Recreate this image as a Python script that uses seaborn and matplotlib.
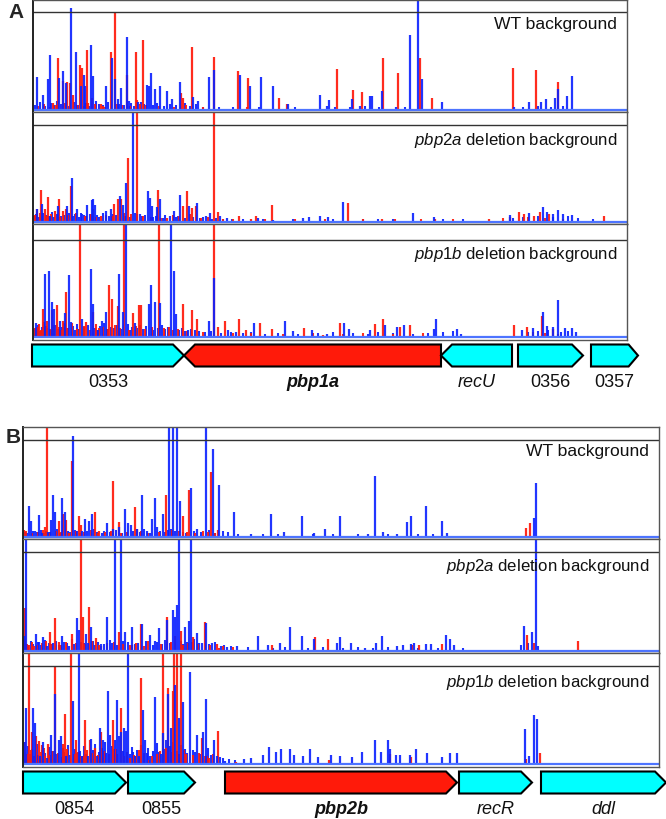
import numpy as np
import matplotlib
matplotlib.use("Agg")
import matplotlib.pyplot as plt
from matplotlib.patches import Polygon
import seaborn as sns

# ---------------- data (position along region, read count; 100 = black line) ----------------
A_WT_red_pos = [20,25,30,34,37,40,47,49,54,55,59,68,70,78,82,84,94,103,104,110,148,150,159,181,205,215,246,254,
                304,320,329,350,365,387,399,480,503,525]
A_WT_red_h = [7,53,30,29,28,15,46,43,61,7,12,6,4,59,100,6,36,59,10,71,17,12,64,54,40,33,12,6,
              42,20,18,53,38,53,12,43,41,29]
A_WT_blue_pos = [4,10,15,16.5,26,30,33,38,43,48,51,52,58,60,73,79,82,85,88,94,96,105,114,116,118,122,127,134,139,147,
                 160,165,176,181,189,207,217,228,240,255,269,287,294,296,
                 319,327,337,339,349,363,377,385,389,409,481,496,508,513,522,525,534,539]
A_WT_blue_h = [34,15,32,56,33,40,28,104,59,25,36,25,66,35,25,53,32,11,22,75,9,8,26,25,38,21,25,19,11,29,
               13,9,34,41,1,36,25,34,24,6,1,15,4,10,
               11,4,14,14,19,3,77,130,32,8,3,8,8,11,12,21,14,35]
A_WT_blue_low_pos = [2,7,12,18,21,24,28,36,41,45,53,56,63,66,70,75,86,91,98,101,108,111,120,124,131,137,143,152,157,163,
                     170,186,200,226,262,302,317,332,346,372,490,505,518,530]
A_WT_blue_low_h = [5,8,4,7,5,9,6,4,8,5,7,4,9,6,5,8,6,5,7,4,8,6,5,7,4,6,5,7,4,6,
                   3,3,3,3,3,3,3,4,3,3,3,4,3,4]
A_WT_red_low_pos = [5,11,17,23,32,44,51,62,72,89,97,107,113,126,141,153,170,214]
A_WT_red_low_h = [4,6,3,5,7,5,4,6,3,5,4,6,5,4,3,5,3,3]

A_2A_red_pos = [4,8,12,15,22,26,30,33,38,60,68,81,85,88,95,104,125,134,150,154,159,163,181,185,206,218,223,239,
                315,349,402,456,477,486,491,501,507,516,571]
A_2A_red_h = [13,33,13,26,11,24,11,13,37,13,6,19,24,24,66,130,33,4,17,32,14,17,130,10,6,3,6,18,
              20,3,3,3,5,10,8,6,10,8,6]
A_2A_blue_pos = [4,9,17,25,34,39,44,49,54,59,60,62,73,78,87,90,93,100,102,107,115,117,119,124,127,137,141,147,156,164,
                 173,177,187,194,225,240,251,270,276,287,295,
                 310,380,401,477,496,510,514,520,525,530,539]
A_2A_blue_h = [13,19,6,16,16,45,13,8,18,23,24,18,11,13,27,18,40,130,9,8,32,25,16,15,24,6,11,28,16,20,
               6,9,6,4,4,2,1,4,5,6,5,
               21,9,5,7,9,15,10,8,12,8,7]
A_2A_blue_low_pos = [1,3,6,10,13,16,19,21,24,28,31,36,40,42,46,48,51,53,57,64,66,70,76,80,83,92,97,104,109,112,
                     120,123,130,132,143,145,152,160,167,170,179,183,190,199,210,230,260,300,330,345,
                     360,410,430,480,490,505,520,535,545,560]
A_2A_blue_low_h = [6,8,5,9,7,6,10,5,8,6,7,9,6,8,5,9,7,6,8,7,5,9,6,8,7,6,5,8,6,7,
                   5,6,4,7,5,6,4,5,4,5,3,4,3,3,3,3,3,3,3,3,
                   3,3,3,4,5,6,5,6,4,3]
A_2A_red_low_pos = [2,7,14,18,27,35,43,52,58,63,73,79,91,98,110,118,128,140,146,157,
                    168,175,190,200,232,262,292,330,362,388,420,470,495,512,530]
A_2A_red_low_h = [7,9,6,8,5,7,9,6,8,5,7,6,9,8,6,5,4,7,6,8,
                  4,5,3,3,3,3,3,3,3,3,3,4,5,4,3]

A_1B_red_pos = [4,10,14,19,24,30,33,47,53,60,76,79,85,91,100,106,108,126,136,150,159,164,181,185,192,206,213,227,239,271,290,
                307,342,350,367,377,481,494,509,520]
A_1B_red_h = [10,29,17,28,33,17,46,130,15,26,54,39,32,130,25,33,33,130,10,34,28,19,130,10,17,19,7,14,8,9,2,
              14,13,19,10,12,12,10,22,8]
A_1B_blue_pos = [3,12,16,19,21,27,32,36,38,49,58,60,65,69,73,86,90,93,102,116,118,122,127,138,141,143,155,176,181,195,
                 203,221,252,260,279,294,
                 311,316,337,352,364,371,401,403,424,428,467,489,500,510,514,520,525,532,539,543]
A_1B_blue_h = [14,65,68,36,29,17,25,64,15,19,70,34,7,16,26,65,26,130,14,34,54,36,35,130,68,24,7,16,61,7,
               5,14,16,6,7,3,
               14,8,7,12,10,12,8,19,8,3,1,7,9,26,11,10,38,9,9,5]
A_1B_blue_low_pos = [1,5,7,9,11,14,18,23,25,29,31,34,40,42,44,46,51,55,62,64,67,71,75,78,81,84,88,95,97,99,
                     104,107,110,113,120,125,129,132,135,146,149,152,158,162,166,172,178,188,198,210,
                     218,232,245,265,285,300,320,335,345,360,380,395,410,420,495,505,515,528,535]
A_1B_blue_low_h = [8,12,6,10,15,9,7,12,8,10,14,9,11,7,13,8,10,12,9,7,11,14,8,10,9,12,8,13,7,10,
                   9,12,8,11,7,9,12,8,10,7,9,6,8,7,6,5,6,4,5,4,
                   5,3,4,3,4,5,4,3,5,4,3,4,5,6,5,6,7,5,6]
A_1B_red_low_pos = [2,6,8,13,17,21,26,28,35,39,44,51,57,63,66,70,74,82,87,96,
                    103,112,119,131,140,145,154,170,200,218,250,280,310,330,360,390,500,512,525]
A_1B_red_low_h = [9,13,7,11,8,12,10,7,9,14,8,11,7,13,9,10,8,12,9,7,
                  11,8,10,9,7,8,6,5,4,4,3,4,3,4,3,4,5,4,3]

B_WT_red_pos = [1,22,24,36,40,43,49,56,58,72,76,90,96,112,114,143,160,166,188,195,503,507]
B_WT_red_h = [7,10,130,16,24,18,78,22,12,26,6,58,15,31,8,43,22,48,67,7,9,14]
B_WT_blue_pos = [6,8,12,16,19,25,28,30,32,39,42,50,54,59,62,66,69,84,90,96,102,105,108,114,119,124,129,132,134,140,
                 146,150,154,157,168,174,183,190,196,211,228,248,261,279,291,302,317,345,352,360,
                 374,384,388,403,419,424,511,513]
B_WT_blue_h = [32,17,6,23,4,5,18,43,26,40,26,104,6,6,19,17,24,14,8,10,29,14,12,8,43,6,19,40,10,24,
               130,130,130,37,51,8,130,91,54,26,3,24,5,22,4,8,22,3,63,5,
               3,15,22,32,16,4,20,56]
B_WT_blue_low_pos = [2,4,10,14,18,21,23,27,34,37,45,47,52,57,64,71,74,79,81,87,93,99,110,117,121,127,137,142,145,148,
                     152,160,163,171,178,186,192,200,205,215,240,255,290,310,335,365,395,410]
B_WT_blue_low_h = [5,4,6,5,7,4,6,5,8,4,6,5,7,4,6,8,5,4,6,5,7,4,6,5,8,4,6,5,7,8,
                   6,5,4,6,5,7,4,6,5,3,3,3,3,3,3,3,3,3]
B_WT_red_low_pos = [3,9,15,20,26,33,38,46,53,61,68,75,82,88,98,104,118,125,136,149,156,164,172,180,185,192]
B_WT_red_low_h = [6,4,5,7,4,6,5,4,6,5,7,4,5,6,4,5,6,4,5,7,6,5,4,6,5,4]

B_2A_red_pos = [2,6,11,27,32,36,49,58,60,66,73,78,96,109,118,121,144,152,158,169,170,182,194,196,
                249,292,305,389,396,419,504,511,555]
B_2A_red_h = [43,6,5,19,33,9,17,130,34,44,13,5,19,6,27,5,34,15,20,9,14,29,7,3,
              6,14,12,6,6,7,16,8,10]
B_2A_blue_pos = [0.5,3,13,16,20,24,30,39,46,54,56,63,65,68,78,84,92,98,102,109,119,127,132,136,144,150,152,154,156,162,
                 166,168,174,179,183,189,198,204,214,
                 235,245,257,267,279,291,314,317,328,342,353,359,374,380,388,391,403,408,423,427,431,501,509,513]
B_2A_blue_h = [15,130,17,9,14,5,8,15,5,33,21,17,8,24,7,34,130,130,19,24,27,16,10,23,31,41,34,46,130,24,
               30,130,18,8,28,8,5,4,5,
               15,6,8,24,15,12,8,14,8,3,8,15,5,6,7,8,7,7,16,12,6,25,19,130]
B_2A_blue_low_pos = [2,5,8,10,15,18,22,26,28,33,36,41,44,49,51,58,61,70,72,75,81,87,89,94,100,105,112,115,123,130,
                     134,139,142,147,158,160,164,171,176,186,192,201,208,225,250,262,285,300,320,335,
                     350,365,395,415,440,498,505,515]
B_2A_blue_low_h = [8,6,10,7,9,6,11,8,7,10,6,9,8,12,7,9,8,10,6,9,7,11,8,6,10,9,7,8,10,6,
                   9,7,11,8,10,7,9,12,8,7,9,6,5,4,3,4,3,4,3,4,
                   3,4,3,3,3,6,8,5]
B_2A_red_low_pos = [4,9,14,19,23,29,38,43,53,62,69,76,84,91,100,107,113,125,138,148,160,165,175,187,200,210]
B_2A_red_low_h = [7,9,6,8,10,7,6,9,8,7,10,6,8,9,7,6,8,10,7,9,6,8,7,6,5,4]

B_1B_red_pos = [2,6,9,13,16,19,22,25,32,40,42,48,53,58,62,67,72,78,90,94,98,107,113,118,126,134,140,145,150,151,
                154,158,163,179,182,186,195,213,306,367,388,503,517]
B_1B_red_h = [22,130,33,29,23,19,8,20,99,20,51,130,25,8,45,24,16,33,45,10,57,6,8,88,4,10,130,78,75,130,
              130,130,10,27,8,6,34,2,4,10,7,5,11]
B_1B_blue_pos = [1,3,10,12,17,20,24,28,32,36,38,43,50,56,59,65,68,74,77,80,85,87,94,96,98,101,103,105,112,116,
                 120,122,127,132,138,140,145,148,152,156,160,167,174,180,183,191,194,202,
                 221,228,240,246,253,258,267,271,280,287,295,308,317,329,339,352,358,365,367,373,
                 377,387,393,404,419,427,434,502,506,511,514]
B_1B_blue_h = [22,57,57,42,8,22,6,30,71,25,29,8,64,130,8,8,26,8,37,25,74,30,65,29,33,37,34,130,8,8,
               55,25,8,68,10,32,71,37,81,47,63,94,30,33,66,24,8,3,
               5,6,9,17,12,15,15,9,8,15,7,9,8,7,12,25,12,25,15,9,
               9,9,15,11,7,11,11,36,8,50,46]
B_1B_blue_low_pos = [2,5,7,9,14,15,19,22,26,30,34,40,41,45,47,52,54,57,61,63,70,72,76,79,82,83,89,91,92,100,
                     107,109,110,114,118,124,125,130,134,136,142,143,147,150,154,158,162,164,170,172,
                     177,185,188,197,200,206,212]
B_1B_blue_low_h = [12,18,10,15,20,9,14,11,17,13,10,16,12,19,9,15,11,13,18,10,14,20,12,16,22,11,18,15,24,13,
                   10,17,12,14,19,11,16,13,21,12,15,24,18,22,13,19,15,11,14,12,
                   10,16,9,7,6,5,4]
B_1B_red_low_pos = [4,8,11,18,21,27,29,35,39,44,51,55,60,64,69,75,81,86,93,101,
                    104,111,116,121,129,137,143,148,156,161,170,176,184,190]
B_1B_red_low_h = [10,14,8,12,16,9,13,11,7,15,10,12,8,14,11,9,13,10,15,8,
                  12,9,14,11,8,13,16,12,10,14,9,11,8,10]

A_genes = ["0353", "pbp1a", "recU", "0356", "0357"]
A_gene_start = [-1, 151, 408, 485, 558]
A_gene_end = [151, 408, 479, 550, 605]
A_gene_dir = [1, -1, -1, 1, 1]
B_genes = ["0854", "0855", "pbp2b", "recR", "ddl"]
B_gene_start = [0, 105, 202, 436, 518]
B_gene_end = [103, 172, 434, 509, 643]
B_gene_dir = [1, 1, 1, 1, 1]

# ---------------- style ----------------
sns.set_style("white")
plt.rcParams['font.family'] = ['Liberation Sans', 'DejaVu Sans']
plt.rcParams['mathtext.fontset'] = 'custom'
plt.rcParams['mathtext.rm'] = 'Liberation Sans'
plt.rcParams['mathtext.it'] = 'Liberation Sans:italic'
plt.rcParams['mathtext.bf'] = 'Liberation Sans:bold'

RED = '#ff1a0a'
BLUE = '#0a20ff'
BASE = '#4d74ff'
CYAN = '#00ffff'

W, H = 666, 820
fig = plt.figure(figsize=(W / 100, H / 100), dpi=100)


def px_axes(x0, y0, x1, y1):
    return fig.add_axes([x0 / W, 1 - y1 / H, (x1 - x0) / W, (y1 - y0) / H])


def draw_track(x0, x1, top, line, base, bottom, rp, rh, bp, bh, rlp, rlh, blp, blh, label, label_y, fs):
    ax = px_axes(x0, top, x1, bottom)
    u = 100.0 / (base - line)
    ax.set_xlim(0, x1 - x0)
    ax.set_ylim(-(bottom - base) * u, (base - top) * u)
    ax.vlines(blp, 0, blh, color=BLUE, lw=1.5, alpha=0.92)
    ax.vlines(rlp, 0, rlh, color=RED, lw=1.5, alpha=0.92)
    ax.vlines(rp, 0, rh, color=RED, lw=1.6, alpha=0.92)
    ax.vlines(bp, 0, bh, color=BLUE, lw=1.6, alpha=0.9)
    ax.axhline(0, color=BASE, lw=1.6)
    ax.axhline(100, color='#333333', lw=1.0)
    ax.set_xticks([])
    ax.set_yticks([])
    for s in ax.spines.values():
        s.set_visible(True)
        s.set_color('#555555')
        s.set_linewidth(1.0)
    ax.spines['left'].set_color('#222222')
    ax.spines['left'].set_linewidth(1.4)
    ax.text((x1 - x0) - 10, (base - label_y) * u, label, ha='right', va='center',
            fontsize=fs, color='#111111')
    return ax


def draw_genes(y0, y1, xoff, names, starts, ends, dirs, label_y):
    ax = px_axes(0, y0, W, y1)
    ax.set_xlim(-xoff, W - xoff)
    ax.set_ylim(0, 1)
    ax.axis('off')
    lo, hi, mid = 0.06, 0.94, 0.5
    for n, s, e, d in zip(names, starts, ends, dirs):
        tip = min(11, (e - s) * 0.2)
        if d > 0:
            pts = [(s, lo), (e - tip, lo), (e, mid), (e - tip, hi), (s, hi)]
        else:
            pts = [(e, lo), (s + tip, lo), (s, mid), (s + tip, hi), (e, hi)]
        fc = RED if n.startswith('pbp') else CYAN
        ax.add_patch(Polygon(pts, closed=True, facecolor=fc, edgecolor='black', lw=1.5, clip_on=False))
        if n.startswith('pbp'):
            style, weight = 'italic', 'bold'
        elif n[0].isdigit():
            style, weight = 'normal', 'normal'
        else:
            style, weight = 'italic', 'normal'
        fig.text((xoff + (s + e) / 2) / W, 1 - label_y / H, n, ha='center', va='center',
                 fontsize=13, fontstyle=style, fontweight=weight, color='#111111')


# Panel A
draw_track(33, 627, 1, 13, 111, 113, A_WT_red_pos, A_WT_red_h, A_WT_blue_pos, A_WT_blue_h,
           A_WT_red_low_pos, A_WT_red_low_h, A_WT_blue_low_pos, A_WT_blue_low_h,
           "WT background", 25, 12.6)
draw_track(33, 627, 113, 126, 223, 225, A_2A_red_pos, A_2A_red_h, A_2A_blue_pos, A_2A_blue_h,
           A_2A_red_low_pos, A_2A_red_low_h, A_2A_blue_low_pos, A_2A_blue_low_h,
           r"$\it{pbp2a}$ deletion background", 140, 12.1)
draw_track(33, 627, 225, 241, 338, 341, A_1B_red_pos, A_1B_red_h, A_1B_blue_pos, A_1B_blue_h,
           A_1B_red_low_pos, A_1B_red_low_h, A_1B_blue_low_pos, A_1B_blue_low_h,
           r"$\it{pbp1b}$ deletion background", 255, 12.1)
draw_genes(344, 369, 33, A_genes, A_gene_start, A_gene_end, A_gene_dir, 383)

# Panel B
draw_track(23, 659, 428, 441, 538, 540, B_WT_red_pos, B_WT_red_h, B_WT_blue_pos, B_WT_blue_h,
           B_WT_red_low_pos, B_WT_red_low_h, B_WT_blue_low_pos, B_WT_blue_low_h,
           "WT background", 452, 12.6)
draw_track(23, 659, 540, 553, 652, 654, B_2A_red_pos, B_2A_red_h, B_2A_blue_pos, B_2A_blue_h,
           B_2A_red_low_pos, B_2A_red_low_h, B_2A_blue_low_pos, B_2A_blue_low_h,
           r"$\it{pbp2a}$ deletion background", 566, 12.1)
draw_track(23, 659, 654, 667, 765, 768, B_1B_red_pos, B_1B_red_h, B_1B_blue_pos, B_1B_blue_h,
           B_1B_red_low_pos, B_1B_red_low_h, B_1B_blue_low_pos, B_1B_blue_low_h,
           r"$\it{pbp1b}$ deletion background", 682, 12.1)
draw_genes(771, 796, 23, B_genes, B_gene_start, B_gene_end, B_gene_dir, 810)

fig.text(8 / W, 1 - 12 / H, "A", fontsize=15, fontweight='bold', ha='left', va='center')
fig.text(6 / W, 1 - 438 / H, "B", fontsize=15, fontweight='bold', ha='left', va='center')

fig.savefig("out.png", dpi=100)
